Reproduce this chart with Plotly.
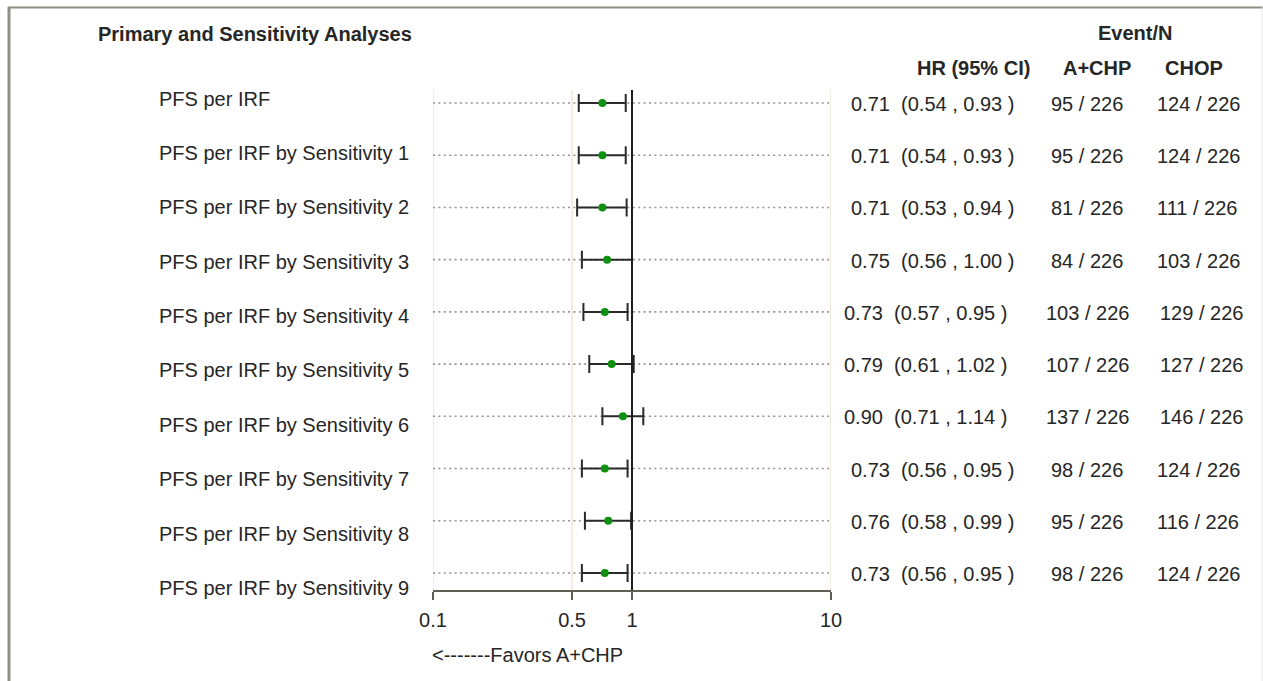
import plotly.graph_objects as go

# ---- data -------------------------------------------------------------
analyses = ["PFS per IRF"] + [f"PFS per IRF by Sensitivity {k}" for k in range(1, 10)]
hr = [0.71, 0.71, 0.71, 0.75, 0.73, 0.79, 0.90, 0.73, 0.76, 0.73]
ci_low = [0.54, 0.54, 0.53, 0.56, 0.57, 0.61, 0.71, 0.56, 0.58, 0.56]
ci_high = [0.93, 0.93, 0.94, 1.00, 0.95, 1.02, 1.14, 0.95, 0.99, 0.95]
events_achp = [95, 95, 81, 84, 103, 107, 137, 98, 95, 98]
events_chop = [124, 124, 111, 103, 129, 127, 146, 124, 116, 124]
n_achp = [226] * 10
n_chop = [226] * 10
tick_vals = [0.1, 0.5, 1, 10]
tick_text = ["0.1", "0.5", "1", "10"]
null_hr = 1

# ---- layout constants --------------------------------------------------
W, H = 1263, 681
FONT = "Liberation Sans, Arial, sans-serif"
FS = 20
TXT = "#262626"
rows = list(range(len(analyses)))

fig = go.Figure()

# dotted guide line across the axis range for every row
gx, gy = [], []
for i in rows:
    gx += [tick_vals[0], tick_vals[-1], None]
    gy += [i, i, None]
fig.add_trace(go.Scatter(x=gx, y=gy, mode="lines",
                         line=dict(color="#949494", width=1.6, dash="2px,3.4px"),
                         hoverinfo="skip", showlegend=False))

# hazard ratio with 95% CI whiskers
fig.add_trace(go.Scatter(
    x=hr, y=rows, mode="markers",
    marker=dict(color="#109010", size=8, line=dict(width=0)),
    error_x=dict(type="data", symmetric=False,
                 array=[h - x for x, h in zip(hr, ci_high)],
                 arrayminus=[x - l for x, l in zip(hr, ci_low)],
                 color="#2a2a2a", thickness=2, width=9),
    showlegend=False, hoverinfo="skip"))

x0_px, x1_px = 433, 831
y_top_px, y_bot_px = 90, 590
row0_px, row_step = 103, 52.22
y_lo = (H - y_bot_px) / H
y_hi = (H - y_top_px) / H

fig.update_layout(
    width=W, height=H, autosize=False,
    margin=dict(l=0, r=0, t=0, b=0, pad=0, autoexpand=False),
    paper_bgcolor="white", plot_bgcolor="white",
    xaxis=dict(type="log", range=[-1, 1], domain=[x0_px / W, x1_px / W],
               tickvals=tick_vals, ticktext=tick_text, showgrid=False,
               automargin=False, ticklabelstandoff=3,
               zeroline=False, showline=True, linecolor="#5e5e55", linewidth=2,
               ticks="outside", ticklen=8, tickwidth=2, tickcolor="#5e5e55",
               tickfont=dict(family=FONT, size=FS, color=TXT), fixedrange=True),
    yaxis=dict(range=[(y_bot_px - row0_px) / row_step, (y_top_px - row0_px) / row_step],
               domain=[y_lo, y_hi], automargin=False,
               showgrid=False, zeroline=False, showticklabels=False,
               showline=False, fixedrange=True),
    font=dict(family=FONT, size=FS, color=TXT),
)

# faint vertical grid at each tick, black reference line at HR = 1
for v in tick_vals:
    is_null = v == null_hr
    fig.add_shape(type="line", xref="x", yref="paper", x0=v, x1=v, y0=y_lo, y1=y_hi,
                  layer="above" if is_null else "below",
                  line=dict(color="#1e1e1e" if is_null else "#eee8d5",
                            width=2 if is_null else 1.5))

# frame around the figure
frame = "#8e8e84"
fig.add_shape(type="line", xref="paper", yref="paper", x0=9 / W, x1=9 / W,
              y0=0, y1=(H - 7) / H, line=dict(color=frame, width=3))
fig.add_shape(type="line", xref="paper", yref="paper", x0=8 / W, x1=1,
              y0=(H - 7.5) / H, y1=(H - 7.5) / H, line=dict(color=frame, width=2))
fig.add_shape(type="line", xref="paper", yref="paper", x0=(W - 1) / W, x1=(W - 1) / W,
              y0=0, y1=(H - 7) / H, line=dict(color="#e4e4e4", width=1))


def note(text, xpx, ypx=None, row=None, shift=0, anchor="left", bold=False, size=FS):
    kw = dict(text=f"<b>{text}</b>" if bold else text, showarrow=False,
              xref="paper", x=xpx / W, xanchor=anchor, yanchor="middle",
              font=dict(family=FONT, size=size, color=TXT))
    if row is None:
        kw.update(yref="paper", y=(H - ypx) / H)
    else:
        kw.update(yref="y", y=row, yshift=shift)
    fig.add_annotation(**kw)


# headers
note("Primary and Sensitivity Analyses", 96, 34, bold=True, size=20)
note("Event/N", 1135, 33, anchor="center", bold=True, size=20)
note("HR (95% CI)", 973, 68, anchor="center", bold=True, size=20)
note("A+CHP", 1097, 68, anchor="center", bold=True, size=20)
note("CHOP", 1194, 68, anchor="center", bold=True, size=20)

# row labels drift slightly downward relative to the plotted rows
for i in rows:
    note(analyses[i], 157, row=i, shift=4.5 - 2.17 * i)

# statistics columns
col_hr, col_a, col_c = 849, 1049, 1155
nudge = {4: (-7, -5, 3), 5: (-7, -5, 3), 6: (-7, -5, 3)}
for i in rows:
    dh, da, dc = nudge.get(i, (0, 0, 0))
    note(f"{hr[i]:.2f}&nbsp;&nbsp;({ci_low[i]:.2f} , {ci_high[i]:.2f} )", col_hr + dh, row=i, shift=-1)
    note(f"{events_achp[i]} / {n_achp[i]}", col_a + da, row=i, shift=-1)
    note(f"{events_chop[i]} / {n_chop[i]}", col_c + dc, row=i, shift=-1)

note("&lt;-------Favors A+CHP", 430, 655)

fig.write_html("out.html")
